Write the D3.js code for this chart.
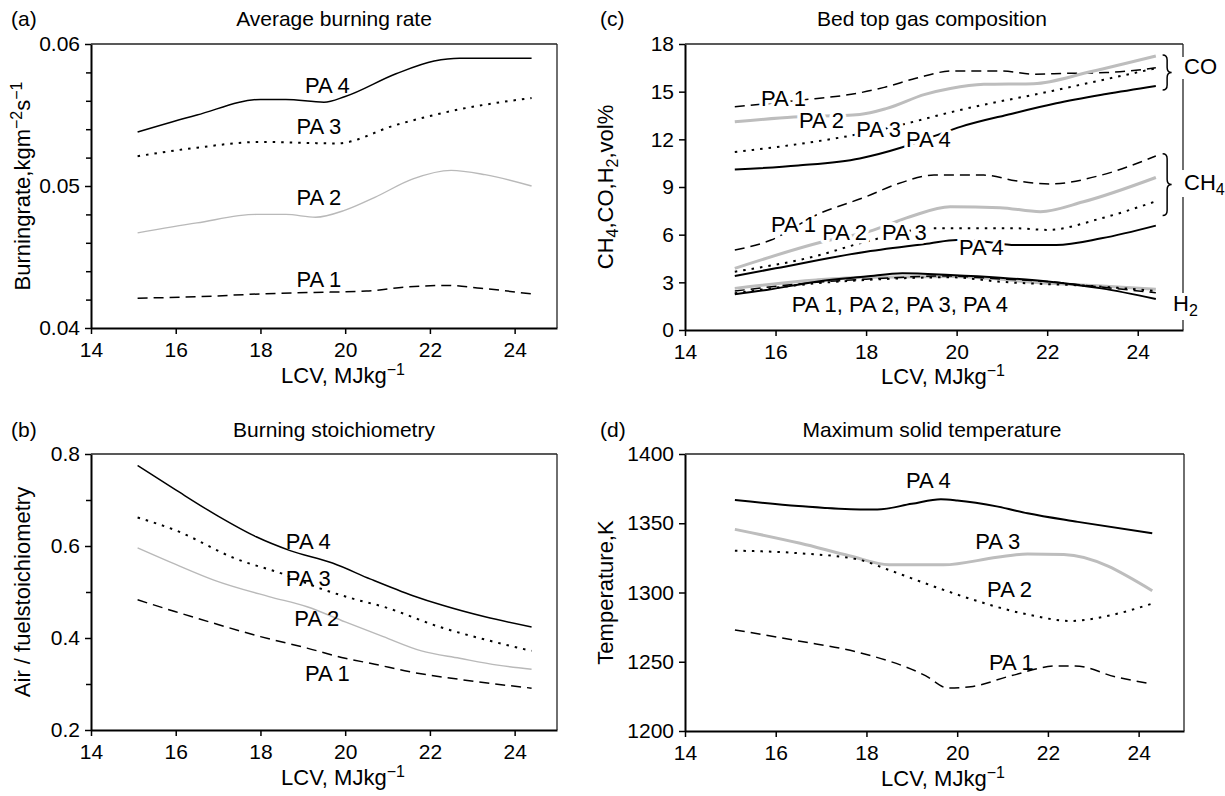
<!DOCTYPE html>
<html><head><meta charset="utf-8">
<script src="https://cdn.jsdelivr.net/npm/d3@7"></script>
<style>
body{margin:0;background:#fff}
text{font-family:"Liberation Sans",Arial,Helvetica,sans-serif;fill:#000}
</style></head><body>
<svg id="chart" width="1225" height="796"></svg>
<script>
// ---------------- DATA ----------------
const lcvTicks = [14, 16, 18, 20, 22, 24];
const lcvDomain = [14, 25];

// (a) Average burning rate, kg m^-2 s^-1
const rateTicks = [0.04, 0.05, 0.06];
const rateMinor = [0.042, 0.044, 0.046, 0.048, 0.052, 0.054, 0.056, 0.058];
const ratePA4 = [[15.1,0.0538],[16.5,0.0550],[18.0,0.0561],[18.6,0.0561],[19.5,0.0559],[20.0,0.0563],[21.2,0.0579],[22.1,0.0588],[22.7,0.0590],[24.4,0.0590]];
const ratePA3 = [[15.1,0.0521],[16.5,0.0527],[18.0,0.0531],[19.8,0.0530],[21.2,0.0543],[22.7,0.0554],[24.4,0.0562]];
const ratePA2 = [[15.1,0.0467],[16.5,0.0474],[17.9,0.0480],[18.6,0.0480],[19.3,0.0478],[20.0,0.0483],[20.7,0.0492],[21.6,0.0505],[22.5,0.0511],[23.3,0.0508],[24.4,0.0500]];
const ratePA1 = [[15.1,0.0421],[16.5,0.0422],[18.0,0.0424],[19.2,0.0425],[20.5,0.0426],[21.5,0.0429],[22.4,0.0430],[23.2,0.0428],[24.4,0.0424]];

// (b) Burning stoichiometry
const stoichTicks = [0.2, 0.4, 0.6, 0.8];
const stoichMinor = [0.3, 0.5, 0.7];
const stoichPA4 = [[15.1,0.775],[16.0,0.722],[17.0,0.665],[17.9,0.620],[18.7,0.590],[19.7,0.563],[20.6,0.528],[21.6,0.492],[22.3,0.471],[23.3,0.446],[24.4,0.424]];
const stoichPA3 = [[15.1,0.662],[16.0,0.634],[17.4,0.573],[18.6,0.537],[19.4,0.508],[20.2,0.485],[20.9,0.468],[22.2,0.425],[23.5,0.392],[24.4,0.372]];
const stoichPA2 = [[15.1,0.596],[16.0,0.560],[16.9,0.526],[18.2,0.490],[19.1,0.468],[20.0,0.435],[20.9,0.403],[21.8,0.372],[22.7,0.356],[23.6,0.341],[24.4,0.332]];
const stoichPA1 = [[15.1,0.483],[16.0,0.457],[16.9,0.432],[18.0,0.403],[19.1,0.378],[20.0,0.356],[20.7,0.343],[21.5,0.327],[22.7,0.310],[24.4,0.291]];

// (c) Bed top gas composition, vol%
const gasTicks = [0, 3, 6, 9, 12, 15, 18];
const coPA1 = [[15.1,14.05],[16.5,14.45],[17.9,14.95],[18.4,15.27],[19.1,15.84],[19.9,16.3],[21.0,16.3],[21.7,16.1],[22.4,16.15],[23.3,16.2],[24.4,16.5]];
const coPA2 = [[15.1,13.1],[16.4,13.4],[17.86,13.57],[18.46,13.95],[19.3,14.83],[19.86,15.2],[20.6,15.46],[21.7,15.5],[22.95,16.25],[24.4,17.24]];
const coPA3 = [[15.1,11.2],[16.5,11.7],[17.6,12.2],[18.3,12.6],[18.9,13.0],[19.86,13.7],[20.8,14.3],[21.7,14.8],[23.0,15.6],[24.4,16.47]];
const coPA4 = [[15.1,10.1],[16.5,10.35],[17.86,10.8],[18.8,11.5],[19.5,12.2],[20.1,12.8],[21.2,13.6],[22.2,14.27],[23.3,14.85],[24.4,15.36]];
const ch4PA1 = [[15.1,5.03],[15.9,5.66],[16.9,7.24],[18.0,8.39],[18.7,9.2],[19.5,9.75],[20.6,9.75],[21.3,9.4],[22.07,9.19],[23.2,9.75],[24.4,10.95]];
const ch4PA2 = [[15.1,3.88],[17.0,5.52],[18.16,6.29],[18.97,7.13],[19.86,7.76],[20.96,7.7],[21.85,7.45],[22.8,8.07],[24.4,9.6]];
const ch4PA3 = [[15.1,3.67],[16.9,4.66],[18.0,5.56],[19.5,6.4],[21.3,6.4],[22.0,6.3],[23.2,7.03],[24.4,8.1]];
const ch4PA4 = [[15.1,3.4],[16.0,3.88],[18.0,4.93],[19.4,5.45],[20.0,5.66],[20.5,5.6],[21.3,5.35],[22.2,5.35],[23.2,5.77],[24.4,6.57]];
const h2PA1 = [[15.1,2.45],[16.9,3.0],[18.0,3.2],[19.8,3.4],[21.0,3.2],[22.0,3.05],[23.2,2.7],[24.4,2.35]];
const h2PA2 = [[15.1,2.62],[16.9,3.15],[18.0,3.32],[19.86,3.36],[22.06,2.94],[23.2,2.77],[24.4,2.56]];
const h2PA3 = [[15.1,2.31],[16.9,2.94],[18.0,3.15],[19.86,3.32],[20.96,3.04],[23.2,2.73],[24.4,2.45]];
const h2PA4 = [[15.1,2.25],[15.8,2.52],[16.9,3.04],[18.0,3.36],[18.8,3.57],[19.86,3.46],[20.96,3.29],[22.06,3.04],[23.2,2.62],[24.4,1.95]];

// (d) Maximum solid temperature, K
const tempTicks = [1200, 1250, 1300, 1350, 1400];
const tempPA4 = [[15.1,1366.8],[16.5,1362.5],[17.86,1360],[18.24,1360],[19.0,1364],[19.64,1367.3],[20.0,1366.5],[20.9,1362],[21.55,1357.2],[22.66,1351],[24.3,1342.7]];
const tempPA3 = [[15.1,1345.6],[16.54,1335.5],[17.64,1326.4],[18.5,1320],[19.7,1320],[20.88,1325.4],[21.55,1327.8],[22.35,1327.5],[24.3,1301.3]];
const tempPA2 = [[15.1,1330.2],[16.54,1328.3],[17.86,1323.5],[18.5,1316.2],[19.5,1304.2],[20.14,1297],[21.6,1283.8],[22.5,1279.4],[23.3,1283],[24.3,1292]];
const tempPA1 = [[15.1,1273],[16.5,1265],[17.8,1257],[19.3,1240],[19.8,1231],[20.3,1232],[21.2,1240],[22.2,1247],[22.6,1247],[23.5,1239],[24.3,1234]];

// ---------------- DRAWING ----------------
const svg = d3.select("#chart");
const FS = 21;   // tick labels, titles
const FL = 22;   // curve labels, axis titles

const STY = {
  solid:  {stroke:"#000", w:1.5, dash:null},
  solidB: {stroke:"#000", w:2, dash:null},
  dotted: {stroke:"#000", w:2, dash:"2.5,6"},
  dashed: {stroke:"#000", w:1.5, dash:"10,6"},
  grey:   {stroke:"#b9b9b9", w:1.4, dash:null},
  greyB:  {stroke:"#bdbdbd", w:3, dash:null}
};

function makePanel(box, yDomain, yTicks, yMinor, yFmt) {
  const x = d3.scaleLinear().domain(lcvDomain).range([box.l, box.r]);
  const y = d3.scaleLinear().domain(yDomain).range([box.b, box.t]);
  const g = svg.append("g");
  g.append("g").attr("transform", `translate(${box.l},0)`)
    .call(d3.axisLeft(y).tickValues(yTicks).tickSize(6).tickSizeOuter(0).tickPadding(5).tickFormat(yFmt));
  if (yMinor) {
    g.append("g").attr("transform", `translate(${box.l},0)`)
      .call(d3.axisLeft(y).tickValues(yMinor).tickSize(5).tickSizeOuter(0).tickFormat(""))
      .select(".domain").remove();
  }
  g.append("g").attr("transform", `translate(0,${box.b})`)
    .call(d3.axisBottom(x).tickValues(lcvTicks).tickSize(6).tickSizeOuter(0).tickPadding(8).tickFormat(d3.format("d")));
  g.selectAll(".domain").attr("stroke", "#000").attr("stroke-width", 2);
  g.selectAll(".tick line").attr("stroke", "#000").attr("stroke-width", 1.5);
  g.selectAll(".tick text").attr("font-size", FS).attr("font-family", '"Liberation Sans",Arial,sans-serif').attr("fill", "#000");
  return {x, y, g, box};
}

function border(p, top, right) {
  const b = p.box;
  if (top) p.g.append("line").attr("x1", b.l).attr("x2", b.r).attr("y1", b.t).attr("y2", b.t)
    .attr("stroke", "#222").attr("stroke-width", 1.3);
  (right || [[b.t, b.b]]).forEach(([y1, y2]) => {
    p.g.append("line").attr("x1", b.r).attr("x2", b.r).attr("y1", y1).attr("y2", y2)
      .attr("stroke", "#222").attr("stroke-width", 1.3);
  });
}

function series(p, data, sty) {
  const line = d3.line().x(d => p.x(d[0])).y(d => p.y(d[1])).curve(d3.curveMonotoneX);
  const s = STY[sty];
  p.g.append("path").attr("d", line(data)).attr("fill", "none")
    .attr("stroke", s.stroke).attr("stroke-width", s.w)
    .attr("stroke-dasharray", s.dash);
}

function label(p, xv, yv, txt, halo) {
  const t = p.g.append("text").attr("x", p.x(xv)).attr("y", p.y(yv))
    .attr("font-size", FL).text(txt);
  if (halo) t.attr("stroke", "#fff").attr("stroke-width", 7).attr("paint-order", "stroke").attr("stroke-linejoin", "round");
  return t;
}

function titles(letter, letterX, title, titleX, baseY) {
  svg.append("text").attr("x", letterX).attr("y", baseY).attr("font-size", FS).text(letter);
  svg.append("text").attr("x", titleX).attr("y", baseY).attr("text-anchor", "middle").attr("font-size", FS).text(title);
}

function xLabel(cx, baseY) {
  const t = svg.append("text").attr("x", cx).attr("y", baseY)
    .attr("text-anchor", "middle").attr("font-size", FL);
  t.append("tspan").text("LCV, MJkg");
  t.append("tspan").attr("font-size", 16).attr("dy", -8).text("\u22121");
}

function yLabel(p, x, parts) {
  const cy = (p.box.t + p.box.b) / 2;
  const t = svg.append("text").attr("transform", `translate(${x},${cy}) rotate(-90)`)
    .attr("text-anchor", "middle").attr("font-size", FL);
  let shift = 0;
  parts.forEach(([txt, kind]) => {
    const ts = t.append("tspan").text(txt);
    const target = kind === "sup" ? -8 : kind === "sub" ? 5 : 0;
    if (kind) ts.attr("font-size", 16);
    ts.attr("dy", target - shift);
    shift = target;
  });
}

// ---- panel (a)
const pa = makePanel({l:91, t:44, r:557, b:328}, [0.04, 0.06], rateTicks, rateMinor, d3.format(".2f"));
border(pa, true);
series(pa, ratePA1, "dashed");
series(pa, ratePA2, "grey");
series(pa, ratePA3, "dotted");
series(pa, ratePA4, "solid");
label(pa, 19.05, 0.05655, "PA 4");
label(pa, 18.85, 0.05365, "PA 3");
label(pa, 18.85, 0.04866, "PA 2");
label(pa, 18.85, 0.04289, "PA 1");
titles("(a)", 11, "Average burning rate", 334, 26);
xLabel(343, 383);
yLabel(pa, 30, [["Burningrate,kgm"], ["\u22122", "sup"], ["s"], ["\u22121", "sup"]]);

// ---- panel (b)
const pb = makePanel({l:91, t:454, r:557, b:730}, [0.2, 0.8], stoichTicks, stoichMinor, d3.format(".1f"));
border(pb, true);
series(pb, stoichPA1, "dashed");
series(pb, stoichPA2, "grey");
series(pb, stoichPA3, "dotted");
series(pb, stoichPA4, "solid");
label(pb, 18.6, 0.5935, "PA 4");
label(pb, 18.6, 0.513, "PA 3");
label(pb, 18.8, 0.426, "PA 2");
label(pb, 19.05, 0.3065, "PA 1");
titles("(b)", 11, "Burning stoichiometry", 334, 437);
xLabel(343, 785);
yLabel(pb, 30, [["Air / fuelstoichiometry"]]);

// ---- panel (c)
const pc = makePanel({l:685, t:44, r:1183, b:330}, [0, 18], gasTicks, null, d3.format("d"));
border(pc, true, [[44, 57], [79, 170], [197, 293], [320, 330]]);
[[coPA1, "dashed"], [coPA2, "greyB"], [coPA3, "dotted"], [coPA4, "solidB"],
 [ch4PA1, "dashed"], [ch4PA2, "greyB"], [ch4PA3, "dotted"], [ch4PA4, "solidB"],
 [h2PA2, "greyB"], [h2PA1, "dashed"], [h2PA3, "dotted"], [h2PA4, "solidB"]]
  .forEach(([d, s]) => series(pc, d, s));
label(pc, 15.68, 14.1, "PA 1", true);
label(pc, 16.52, 12.71, "PA 2", true);
label(pc, 17.78, 12.15, "PA 3", true);
label(pc, 18.88, 11.52, "PA 4", true);
label(pc, 15.90, 6.17, "PA 1", true);
label(pc, 17.03, 5.66, "PA 2", true);
label(pc, 18.35, 5.66, "PA 3", true);
label(pc, 20.05, 4.72, "PA 4", true);
label(pc, 16.36, 1.13, "PA 1, PA 2, PA 3, PA 4", false);
function brace(p, xv, v1, v2) {
  const x0 = p.x(xv), y1 = p.y(v1), y2 = p.y(v2), ym = (y1 + y2) / 2, w = 9, r = 5;
  const xm = x0 + w / 2;
  p.g.append("path").attr("fill", "none").attr("stroke", "#000").attr("stroke-width", 1.5)
    .attr("d", `M${x0},${y1} Q${xm},${y1} ${xm},${y1 + r} L${xm},${ym - r} Q${xm},${ym} ${x0 + w},${ym} Q${xm},${ym} ${xm},${ym + r} L${xm},${y2 - r} Q${xm},${y2} ${x0},${y2}`);
}
brace(pc, 24.55, 17.3, 15.1);
brace(pc, 24.55, 11.1, 7.2);
svg.append("text").attr("x", 1184).attr("y", 74).attr("font-size", FL).text("CO");
const ch4t = svg.append("text").attr("x", 1184).attr("y", 190).attr("font-size", FL);
ch4t.append("tspan").text("CH");
ch4t.append("tspan").attr("font-size", 16).attr("dy", 5).text("4");
const h2t = svg.append("text").attr("x", 1173).attr("y", 311).attr("font-size", FL);
h2t.append("tspan").text("H");
h2t.append("tspan").attr("font-size", 16).attr("dy", 5).text("2");
titles("(c)", 600, "Bed top gas composition", 932, 26);
xLabel(943, 384);
yLabel(pc, 613, [["CH"], ["4", "sub"], [",CO,H"], ["2", "sub"], [",vol%"]]);

// ---- panel (d)
const pd = makePanel({l:685, t:454, r:1184, b:731}, [1200, 1400], tempTicks, null, d3.format("d"));
border(pd, true);
series(pd, tempPA1, "dashed");
series(pd, tempPA3, "greyB");
series(pd, tempPA2, "dotted");
series(pd, tempPA4, "solidB");
label(pd, 18.87, 1375.5, "PA 4");
label(pd, 20.4, 1331.4, "PA 3");
label(pd, 20.66, 1296.8, "PA 2");
label(pd, 20.7, 1244, "PA 1");
titles("(d)", 600, "Maximum solid temperature", 932, 437);
xLabel(943, 786);
yLabel(pd, 613, [["Temperature,K"]]);
</script>
</body></html>
